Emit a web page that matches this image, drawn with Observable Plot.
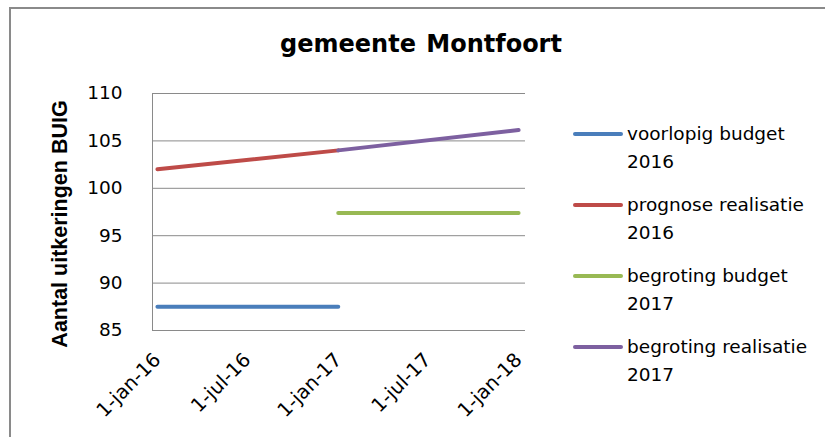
<!DOCTYPE html>
<html>
<head>
<meta charset="utf-8">
<script src="https://cdn.jsdelivr.net/npm/d3@7"></script>
<script src="https://cdn.jsdelivr.net/npm/@observablehq/plot@0.6"></script>
<style>
  html, body { margin: 0; padding: 0; background: #fff; }
  #wrap { position: relative; width: 825px; height: 437px; overflow: hidden; background: #fff; }
  #chart { position: absolute; left: 0; top: 0; }
  .abs { position: absolute; white-space: pre; color: #000; }
  #border { position: absolute; left: 9px; top: 7px; width: 900px; height: 500px;
            border-top: 2px solid #8a8a8a; border-left: 2px solid #8a8a8a; }
  #sup { left: 13px; top: -19px; font: bold 20.8px "DejaVu Sans"; }
  #title { left: 0; width: 842px; top: 30px; text-align: center; font: bold 24px "DejaVu Sans"; word-spacing: 2px; }
  #ylab { left: 60px; top: 224px; font: bold 21.5px "Liberation Sans"; transform: translate(-50%, -50%) rotate(-90deg); }
  .leg { position: absolute; left: 573px; width: 240px; font: 18.5px "DejaVu Sans"; line-height: 28px; }
  .leg .sw { position: absolute; left: 0; top: 12px; width: 50px; height: 4px; border-radius: 2px; }
  .leg .tx { position: absolute; left: 54px; top: 0; width: 190px; white-space: normal; }
</style>
</head>
<body>
<div id="wrap">
  <div id="chart"></div>
  <div id="border"></div>
  <div id="sup" class="abs">Grafiek 2</div>
  <div id="title" class="abs">gemeente Montfoort</div>
  <div id="ylab" class="abs">Aantal uitkeringen BUIG</div>
  <div id="legend"></div>
</div>
<script>
// ---- data ----
const seriesNames = ["voorlopig budget 2016", "prognose realisatie 2016", "begroting budget 2017", "begroting realisatie 2017"];
const seriesColors = ["#4a7ebb", "#be4b48", "#98b954", "#7d60a0"];
const voorlopigBudget2016Dates = ["2016-01-01", "2017-01-01"];
const voorlopigBudget2016Values = [87.5, 87.5];
const prognoseRealisatie2016Dates = ["2016-01-01", "2017-01-01"];
const prognoseRealisatie2016Values = [102.0, 104.0];
const begrotingBudget2017Dates = ["2017-01-01", "2018-01-01"];
const begrotingBudget2017Values = [97.4, 97.4];
const begrotingRealisatie2017Dates = ["2017-01-01", "2018-01-01"];
const begrotingRealisatie2017Values = [104.0, 106.15];
const xTickDates = ["2016-01-01", "2016-07-01", "2017-01-01", "2017-07-01", "2018-01-01"];
const xTickLabels = ["1-jan-16", "1-jul-16", "1-jan-17", "1-jul-17", "1-jan-18"];
const yTicks = [85, 90, 95, 100, 105, 110];
const xDomain = ["2015-12-22", "2018-01-15"];

// ---- build ----
const parse = d3.utcParse("%Y-%m-%d");
function mk(dates, values, name) { return dates.map((d, i) => ({date: parse(d), value: values[i], name})); }
const series = [
  mk(voorlopigBudget2016Dates, voorlopigBudget2016Values, seriesNames[0]),
  mk(prognoseRealisatie2016Dates, prognoseRealisatie2016Values, seriesNames[1]),
  mk(begrotingBudget2017Dates, begrotingBudget2017Values, seriesNames[2]),
  mk(begrotingRealisatie2017Dates, begrotingRealisatie2017Values, seriesNames[3])
];
const tickDates = xTickDates.map(parse);
const labelOf = new Map(tickDates.map((d, i) => [+d, xTickLabels[i]]));
const domain = xDomain.map(parse);

const chart = Plot.plot({
  width: 825, height: 437,
  marginLeft: 152, marginRight: 300, marginTop: 93, marginBottom: 107,
  style: { fontFamily: "DejaVu Sans", fontSize: "18.5px", color: "#000", background: "transparent", overflow: "visible" },
  x: { type: "utc", domain, label: null },
  y: { domain: [85, 110], label: null },
  marks: [
    Plot.gridY(yTicks, { stroke: "#8a8a8a", strokeOpacity: 1, strokeWidth: 1 }),
    Plot.ruleX([domain[0]], { stroke: "#8a8a8a", strokeWidth: 1 }),
    Plot.axisY(yTicks, { tickSize: 0, tickPadding: 30, label: null, fill: "#000" }),
    Plot.axisX(tickDates, { tickSize: 0, tickPadding: 26, tickRotate: -45, fontSize: 19.5, tickFormat: d => labelOf.get(+d), label: null, fill: "#000" }),
    ...series.map((s, i) => Plot.line(s, { x: "date", y: "value", stroke: seriesColors[i], strokeWidth: 4, strokeLinecap: "round" }))
  ]
});
document.getElementById("chart").appendChild(chart);

// ---- legend ----
const legendTops = [120, 191, 262, 333];
const lg = document.getElementById("legend");
seriesNames.forEach((n, i) => {
  const d = document.createElement("div");
  d.className = "leg";
  d.style.top = legendTops[i] + "px";
  d.innerHTML = `<div class="sw" style="background:${seriesColors[i]}"></div><div class="tx"></div>`;
  d.querySelector(".tx").textContent = n;
  lg.appendChild(d);
});
</script>
</body>
</html>
